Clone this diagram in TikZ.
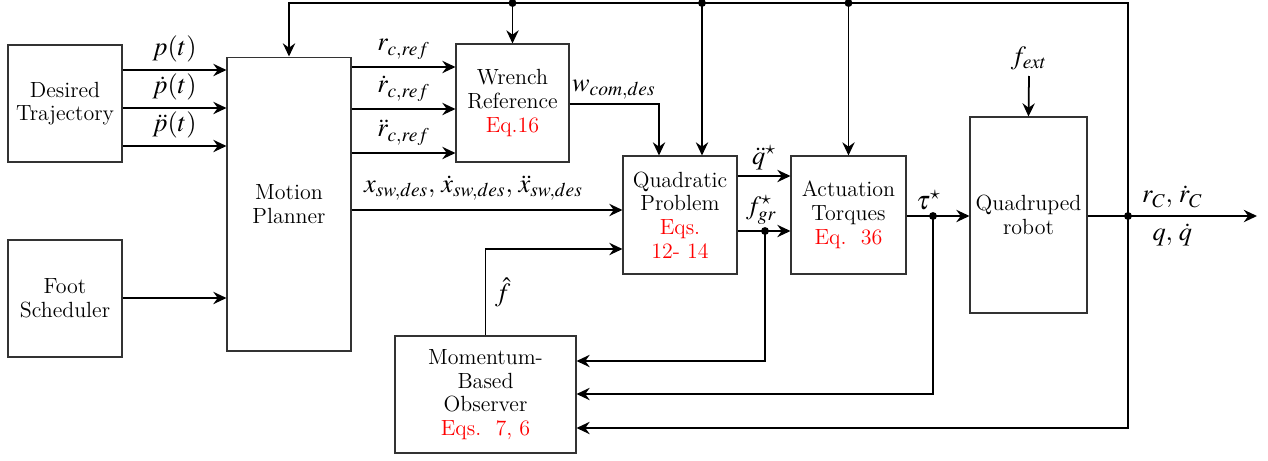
\documentclass[tikz,border=0pt]{standalone}
\usepackage{amsmath}
\usepackage{mathptmx}
\usepackage{tikz}
\usetikzlibrary{arrows.meta,positioning,calc}
\usepackage{xcolor}

\begin{document}
\begin{tikzpicture}[x=0.02cm,y=-0.02cm,
    block/.style={draw=black!80,line width=0.6pt,align=center,inner sep=2pt,
      font=\rmfamily\fontsize{12.5}{13.5}\selectfont},
    arr/.style={line width=1pt,-{Stealth[length=7.5pt,width=7pt,inset=2.5pt]}},
    lbl/.style={font=\fontsize{15}{17}\selectfont,inner sep=1pt},
    junc/.style={circle,fill=black,inner sep=0pt,minimum size=4.5pt}]
  \useasboundingbox (0,0) rectangle (1268,460);

  % blocks
  \node[block,minimum width=2.28cm,minimum height=2.34cm] (traj) at (65,103.5) {Desired\\Trajectory};
  \node[block,minimum width=2.28cm,minimum height=2.34cm] (foot) at (65,298.5) {Foot\\Scheduler};
  \node[block,minimum width=2.48cm,minimum height=5.88cm] (planner) at (289,204) {Motion\\Planner};
  \node[block,minimum width=2.26cm,minimum height=2.36cm] (wrench) at (512.5,103) {Wrench\\Reference\\{\color{red}Eq.16}};
  \node[block,minimum width=2.28cm,minimum height=2.36cm] (qp) at (680,215) {Quadratic\\Problem\\{\color{red}Eqs.}\\{\color{red}12- 14}};
  \node[block,minimum width=2.30cm,minimum height=2.36cm] (act) at (848.5,215) {Actuation\\Torques\\{\color{red}Eq.~~36}};
  \node[block,minimum width=2.34cm,minimum height=3.92cm] (robot) at (1028.5,215) {Quadruped\\robot};
  \node[block,minimum width=3.62cm,minimum height=2.34cm] (obs) at (485.5,394.5) {Momentum-\\Based\\Observer\\{\color{red}Eqs.~~7, 6}};

  % junctions
  \coordinate (top) at (1128,3);
  \node[junc] (jw) at (wrench.north |- top) {};
  \node[junc] (jq) at (702,3) {};
  \node[junc] (ja) at (act.north |- top) {};
  \node[junc] (jf) at (765,231) {};
  \node[junc] (jt) at (933,216) {};
  \node[junc] (jo) at (1128,216) {};
  \coordinate (fext) at (1029,76);
  \coordinate (out) at (1257,216);

  % desired trajectory -> planner
  \draw[arr] (traj.east |- 0,70) -- (planner.west |- 0,70) node[lbl,midway,above=3pt] {$p(t)$};
  \draw[arr] (traj.east |- 0,108) -- (planner.west |- 0,108) node[lbl,midway,above=3pt] {$\dot p(t)$};
  \draw[arr] (traj.east |- 0,146) -- (planner.west |- 0,146) node[lbl,midway,above=3pt] {$\ddot p(t)$};
  \draw[arr] (foot.east |- 0,298) -- (planner.west |- 0,298);

  % planner -> wrench, qp
  \draw[arr] (planner.east |- 0,67) -- (wrench.west |- 0,67) node[lbl,midway,above=3pt] {$r_{c,ref}$};
  \draw[arr] (planner.east |- 0,109) -- (wrench.west |- 0,109) node[lbl,midway,above=3pt] {$\dot r_{c,ref}$};
  \draw[arr] (planner.east |- 0,153) -- (wrench.west |- 0,153) node[lbl,midway,above=3pt] {$\ddot r_{c,ref}$};
  \draw[arr] (planner.east |- 0,210) -- (qp.west |- 0,210) node[lbl,pos=0.45,above=4pt] {$x_{sw,des},\,\dot x_{sw,des},\,\ddot x_{sw,des}$};
  \draw[arr] (wrench.east |- 0,104) node[lbl,above right=1pt and 0pt] {$w_{com,des}$} -| (659,0 |- qp.north);

  % qp -> actuation -> robot
  \draw[arr] (qp.east |- 0,176) -- (act.west |- 0,176) node[lbl,midway,above=2pt] {$\ddot q^{\star}$};
  \draw[arr] (qp.east |- 0,231) -- (act.west |- 0,231) node[lbl,pos=0.45,above=2pt] {$f_{gr}^{\star}$};
  \draw[arr] (act.east |- 0,216) -- (robot.west |- 0,216) node[lbl,pos=0.35,above=2pt] {$\tau^{\star}$};
  \draw[arr] (fext) node[lbl,above=2pt] {$f_{ext}$} -- (robot.north);
  \draw[arr] (robot.east |- 0,216) -- (out) node[lbl,pos=0.5,above=3pt] {$r_C,\,\dot r_C$} node[lbl,pos=0.5,below=3pt] {$q,\,\dot q$};

  % feedback
  \draw[arr] (jo.center) -- (top) -| (planner.north);
  \draw[arr] (jw.center) -- (wrench.north);
  \draw[arr] (jq.center) -- (jq |- qp.north);
  \draw[arr] (ja.center) -- (act.north);
  \draw[arr] (jf.center) |- (obs.east |- 0,361);
  \draw[arr] (jt.center) |- (obs.east |- 0,394);
  \draw[arr] (jo.center) |- (obs.east |- 0,428);
  \draw[arr] (obs.north) |- (qp.west |- 0,249) node[lbl,pos=0.25,right=4pt] {$\hat f$};
\end{tikzpicture}
\end{document}
